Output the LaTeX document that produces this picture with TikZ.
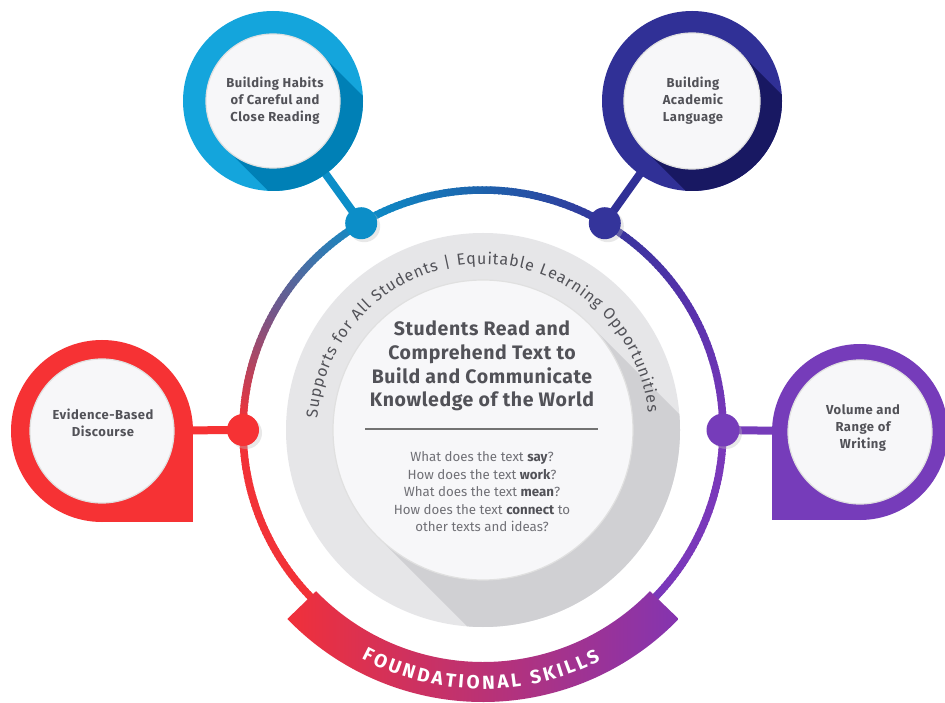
\documentclass[tikz,border=0pt]{standalone}
\usepackage{fontspec}
\setmainfont{Fira Sans}
\newfontfamily\bubfont[LetterSpace=4]{Fira Sans}
\newfontfamily\titfont[LetterSpace=3]{Fira Sans}
\newfontfamily\arcfont[LetterSpace=2]{Fira Sans}
\usetikzlibrary{decorations.text,calc}
\definecolor{cyanR}{RGB}{20,165,220}
\definecolor{cyanD}{RGB}{0,128,182}
\definecolor{navyR}{RGB}{48,48,150}
\definecolor{navyD}{RGB}{24,24,98}
\definecolor{redR}{RGB}{246,50,52}
\definecolor{purR}{RGB}{118,60,186}
\definecolor{rP}{RGB}{122,56,186}
\definecolor{rV}{RGB}{88,50,172}
\definecolor{rN}{RGB}{52,52,155}
\definecolor{rB}{RGB}{30,98,172}
\definecolor{rC}{RGB}{12,142,200}
\definecolor{rM}{RGB}{112,88,140}
\definecolor{rR}{RGB}{242,50,55}
\definecolor{bandL}{RGB}{240,48,58}
\definecolor{bandR}{RGB}{132,52,176}
\definecolor{grayA}{RGB}{230,230,232}
\definecolor{grayB}{RGB}{208,208,211}
\definecolor{inner}{RGB}{247,247,249}
\definecolor{txtD}{RGB}{82,82,88}
\definecolor{txtL}{RGB}{112,112,118}
\begin{document}
\begin{tikzpicture}[x=1pt,y=1pt,
  bubtext/.style={align=center,text=txtD,font=\bubfont\fontsize{13}{17}\selectfont\bfseries},
  whitedisc/.style={fill=inner,draw=black!12,line width=1.2},
  dotshadow/.style={fill=black!25,opacity=.35}]
\useasboundingbox (0,0) rectangle (945,702);
\fill[white] (0,0) rectangle (945,702);
\coordinate (C) at (483,272);
\coordinate (B1) at (273,601);
\coordinate (B2) at (692,601);
\coordinate (B3) at (102,271);
\coordinate (B4) at (860,270);
\coordinate (D1) at ($(C)+(120.5:240)$);
\coordinate (D2) at ($(C)+(59.5:240)$);
\coordinate (D3) at ($(C)+(180:240)$);
\coordinate (D4) at ($(C)+(0:240)$);

% gradient ring
\foreach \a/\b/\ca/\cb in {-47/0/rP/rP,0/30/rP/rV,30/60/rV/rN,60/90/rN/rB,90/120/rB/rC,120/150/rC/rM,150/178/rM/rR,178/227/rR/rR}{
  \pgfmathtruncatemacro\n{\b-\a}
  \foreach \i in {1,...,\n}{
    \pgfmathsetmacro\s{\a+\i-1}
    \pgfmathsetmacro\e{\a+\i+0.4}
    \pgfmathtruncatemacro\p{round(100*(\i-0.5)/\n)}
    \draw[line width=7.5,color=\cb!\p!\ca] (C) ++(\s:240) arc[start angle=\s,end angle=\e,radius=240];
  }
}

% connectors
\draw[line width=8,rC] (B1) -- (D1);
\draw[line width=8,navyR] (B2) -- (D2);
\draw[line width=8,redR] (B3) -- (D3);
\draw[line width=8,purR] (B4) -- (D4);

% dots
\foreach \d in {D1,D2,D3,D4}{\fill[dotshadow] ($(\d)+(3,-3)$) circle (16);}
\fill[rC] (D1) circle (16);
\fill[rN] (D2) circle (16);
\fill[redR] (D3) circle (16);
\fill[purR] (D4) circle (16.5);

% bubble 1 (cyan)
\fill[cyanR] (B1) circle (90);
\begin{scope}
  \clip (B1) circle (90);
  \fill[cyanD] ($(B1)+(45:67)$) -- ($(B1)+(225:67)$) -- ++(200,-200) -- ($(B1)+(45:67)+(200,-200)$) -- cycle;
\end{scope}
\fill[whitedisc] (B1) circle (67);
\node[bubtext] (t1) at (275,601) {Building Habits\\of Careful and\\Close Reading};

% bubble 2 (navy)
\fill[navyR] (B2) circle (90);
\begin{scope}
  \clip (B2) circle (90);
  \fill[navyD] ($(B2)+(45:68)$) -- ($(B2)+(225:68)$) -- ++(200,-200) -- ($(B2)+(45:68)+(200,-200)$) -- cycle;
\end{scope}
\fill[whitedisc] (B2) circle (68);
\node[bubtext] (t2) at (693,601) {Building\\Academic\\Language};

% bubble 3 (red teardrop)
\fill[redR] (B3) circle (91);
\fill[redR] (B3) rectangle ++(91,-91);
\fill[whitedisc] (B3) circle (72);
\node[bubtext] (t3) at (103,279) {Evidence-Based\\Discourse};

% bubble 4 (purple teardrop)
\fill[purR] (B4) circle (88);
\fill[purR] (B4) rectangle ++(-88,-88);
\fill[whitedisc] (B4) circle (72);
\node[bubtext] (t4) at (863,274) {Volume and\\Range of\\Writing};

% central disc
\fill[grayA] (C) circle (197);
\begin{scope}
  \clip (C) circle (197);
  \fill[grayB] ($(C)+(45:150)$) -- ($(C)+(225:150)$) -- ++(400,-400) -- ($(C)+(45:150)+(400,-400)$) -- cycle;
\end{scope}
\fill[whitedisc] (C) circle (150);

% curved text
\path[decorate,decoration={text along path,text format delimiters={[}{]},
  text={[\arcfont\fontsize{16}{16}\selectfont\color{txtD}]Supports for All Students  |  Equitable Learning Opportunities},
  text align=fit to path}]
  ($(C)+(176:166)$) arc[start angle=176,end angle=6,radius=166];

% title and questions
\node[align=center,text=txtD,font=\titfont\fontsize{19.5}{23.7}\selectfont\bfseries] (title) at (482,336)
  {Students Read and\\Comprehend Text to\\Build and Communicate\\Knowledge of the World};
\coordinate (L1) at (365,273);
\coordinate (L2) at (598,273);
\draw[line width=1.3,black!55] (L1) -- (L2);
\node[align=center,text=txtL,font=\fontsize{13.3}{17.5}\selectfont] (q) at (482,210)
  {What does the text \textcolor{txtD}{\bfseries say}?\\How does the text \textcolor{txtD}{\bfseries work}?\\What does the text \textcolor{txtD}{\bfseries mean}?\\How does the text \textcolor{txtD}{\bfseries connect} to\\other texts and ideas?};

% banner
\shade[left color=bandL,right color=bandR]
  ($(C)+(224:232)$) arc[start angle=224,end angle=316,radius=232]
  -- ($(C)+(316:272)$) arc[start angle=316,end angle=224,radius=272] -- cycle;
\path[decorate,decoration={text along path,
  text={|\fontsize{19}{19}\selectfont\bfseries\color{white}|FOUNDATIONAL SKILLS},
  text align=fit to path}]
  ($(C)+(242:259)$) arc[start angle=242,end angle=297,radius=259];
\end{tikzpicture}
\end{document}
